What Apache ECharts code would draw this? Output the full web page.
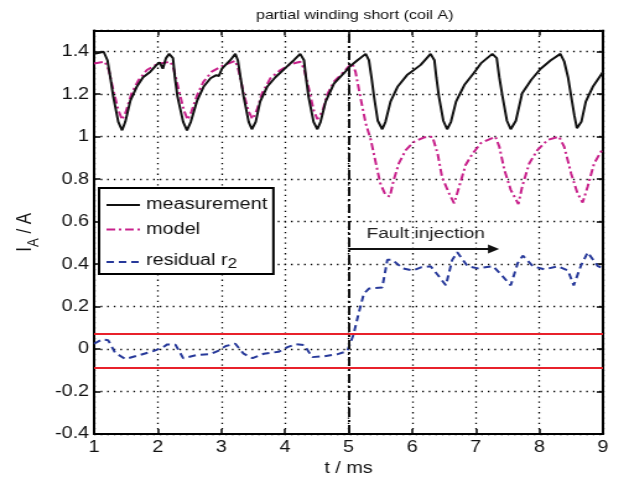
<!DOCTYPE html>
<html>
<head>
<meta charset="utf-8">
<script src="https://cdn.jsdelivr.net/npm/echarts@6/dist/echarts.min.js"></script>
<style>
  html, body { margin: 0; padding: 0; background: #fff; overflow: hidden; }
  /* the figure is laid out on a narrower canvas and widened to the page */
  #chart { width: 504px; height: 482px; transform: scaleX(1.2381); transform-origin: 0 0; }
</style>
</head>
<body>
<div id="chart"></div>
<script>
// time axis [ms]
const measT = [1.00,1.08,1.15,1.21,1.26,1.30,1.38,1.44,1.49,1.57,1.67,1.77,1.88,1.99,2.03,2.08,2.13,2.18,2.24,2.27,2.31,2.40,2.46,2.52,2.62,2.72,2.83,2.92,2.96,3.01,3.14,3.22,3.26,3.30,3.35,3.43,3.48,3.54,3.61,3.72,3.85,4.03,4.14,4.24,4.30,4.33,4.37,4.45,4.51,4.56,4.64,4.77,4.93,5.03,5.14,5.27,5.32,5.36,5.40,5.46,5.53,5.58,5.66,5.77,5.92,6.13,6.29,6.35,6.38,6.42,6.49,6.55,6.61,6.69,6.82,6.97,7.08,7.26,7.33,7.37,7.42,7.49,7.55,7.63,7.73,7.87,8.02,8.18,8.33,8.39,8.45,8.50,8.55,8.59,8.66,8.73,8.84,9.00];
// measured coil current I_A [A]
const measI = [1.39,1.395,1.40,1.36,1.27,1.19,1.07,1.03,1.07,1.17,1.235,1.28,1.305,1.34,1.35,1.32,1.37,1.39,1.37,1.28,1.19,1.07,1.03,1.07,1.17,1.235,1.275,1.29,1.285,1.32,1.36,1.39,1.36,1.28,1.19,1.07,1.035,1.07,1.165,1.235,1.28,1.33,1.36,1.39,1.36,1.28,1.19,1.07,1.035,1.07,1.165,1.25,1.30,1.333,1.36,1.39,1.36,1.28,1.19,1.075,1.035,1.07,1.165,1.235,1.29,1.337,1.39,1.36,1.28,1.19,1.075,1.035,1.07,1.165,1.243,1.30,1.345,1.39,1.37,1.28,1.19,1.075,1.035,1.075,1.205,1.267,1.32,1.36,1.39,1.355,1.28,1.19,1.10,1.04,1.07,1.165,1.235,1.305];

const modelT = [1.00,1.17,1.23,1.30,1.38,1.44,1.50,1.59,1.70,1.83,1.99,2.20,2.25,2.33,2.41,2.47,2.53,2.62,2.72,2.85,3.04,3.22,3.27,3.35,3.43,3.49,3.56,3.64,3.77,3.93,4.09,4.24,4.30,4.38,4.45,4.51,4.59,4.66,4.77,4.90,5.00,5.06,5.11,5.19,5.27,5.35,5.43,5.50,5.58,5.65,5.71,5.79,5.90,6.03,6.19,6.32,6.40,6.47,6.58,6.66,6.74,6.84,6.95,7.08,7.31,7.37,7.45,7.55,7.67,7.73,7.84,7.97,8.13,8.31,8.39,8.50,8.60,8.68,8.76,8.86,9.00];
// model current [A]
const modelI = [1.345,1.353,1.314,1.22,1.126,1.08,1.118,1.204,1.267,1.314,1.342,1.353,1.32,1.22,1.126,1.08,1.118,1.196,1.259,1.306,1.337,1.357,1.314,1.204,1.118,1.083,1.126,1.204,1.275,1.314,1.342,1.353,1.32,1.22,1.126,1.083,1.118,1.196,1.259,1.298,1.33,1.345,1.305,1.18,1.063,0.985,0.874,0.78,0.726,0.718,0.796,0.874,0.937,0.976,0.997,1.00,0.92,0.81,0.733,0.686,0.765,0.867,0.92,0.97,1.00,0.953,0.843,0.75,0.683,0.765,0.874,0.937,0.985,1.00,0.953,0.826,0.733,0.69,0.765,0.874,0.945];

const resT = [1.00,1.12,1.22,1.33,1.49,1.72,1.93,2.07,2.15,2.28,2.40,2.62,2.83,2.94,3.07,3.22,3.35,3.49,3.67,3.90,4.04,4.17,4.30,4.43,4.62,4.83,4.98,5.08,5.16,5.24,5.32,5.53,5.61,5.69,5.85,6.01,6.14,6.29,6.40,6.53,6.63,6.71,6.87,7.03,7.27,7.37,7.55,7.66,7.74,7.90,8.08,8.29,8.45,8.54,8.65,8.76,8.92,9.00];
// residual r2 [A]
const resR = [0.025,0.045,0.042,-0.017,-0.047,-0.028,-0.01,0.006,0.022,0.02,-0.043,-0.028,-0.024,-0.01,0.014,0.025,-0.022,-0.043,-0.022,-0.013,0.009,0.023,0.019,-0.038,-0.034,-0.024,-0.01,0.07,0.17,0.26,0.285,0.29,0.42,0.42,0.38,0.37,0.385,0.39,0.35,0.30,0.42,0.456,0.39,0.38,0.39,0.36,0.30,0.405,0.44,0.39,0.375,0.39,0.37,0.30,0.39,0.455,0.39,0.38];

// detection thresholds and fault marker
const thresholdUpper = 0.066;
const thresholdLower = -0.086;
const faultTime = 5;
const arrowEnd = 7.28;
const arrowLevel = 0.471;

const xTicks = { min: 1, max: 9, step: 1 };
const yTicks = { min: -0.4, max: 1.5, step: 0.2 };

const FONT = '"Liberation Sans", Arial, Helvetica, sans-serif';
const zip = (t, v) => t.map((x, i) => [x, v[i]]);

const gridLine = () => ({ show: true, lineStyle: { color: '#000', width: 1.3, type: [1.3, 4], opacity: 1 } });
const frameLine = () => ({ show: true, onZero: false, lineStyle: { color: '#000', width: 2 } });
const innerTick = () => ({ show: true, inside: true, length: 5, lineStyle: { color: '#000', width: 1.5 } });

const chart = echarts.init(document.getElementById('chart'));
chart.setOption({
  animation: false,
  backgroundColor: '#fff',
  title: {
    text: 'partial winding short (coil A)',
    left: 281.5,
    textAlign: 'center',
    top: 4,
    textStyle: { fontFamily: FONT, fontSize: 13, fontWeight: 'normal', color: '#111' }
  },
  grid: { left: 76, right: 17, top: 30.5, bottom: 48, containLabel: false },
  legend: {
    orient: 'vertical',
    left: 80,
    top: 188,
    padding: [8, 5, 3, 5],
    itemGap: 6.5,
    itemWidth: 27,
    itemHeight: 14,
    backgroundColor: '#fff',
    borderColor: '#000',
    borderWidth: 2,
    borderRadius: 0,
    itemStyle: { opacity: 0 },
    data: ['measurement', 'model', 'residual r2'],
    formatter: name => name === 'residual r2' ? '{m|residual r}{sub|2}' : name,
    textStyle: {
      fontFamily: FONT, fontSize: 16, color: '#111', lineHeight: 18,
      rich: {
        m: { fontFamily: FONT, fontSize: 16, color: '#111', lineHeight: 18, verticalAlign: 'top' },
        sub: { fontFamily: FONT, fontSize: 14, color: '#111', lineHeight: 14, padding: [12, 0, 0, 0], verticalAlign: 'bottom' }
      }
    }
  },
  xAxis: [{
    type: 'value', min: xTicks.min, max: xTicks.max, interval: xTicks.step,
    position: 'bottom',
    name: 't / ms', nameLocation: 'middle', nameGap: 26,
    nameTextStyle: { fontFamily: FONT, fontSize: 16, color: '#111' },
    axisLine: frameLine(), axisTick: innerTick(),
    axisLabel: { fontFamily: FONT, fontSize: 16, color: '#111', margin: 6 },
    splitLine: gridLine()
  }, {
    type: 'value', min: xTicks.min, max: xTicks.max, interval: xTicks.step,
    position: 'top',
    axisLine: frameLine(), axisTick: innerTick(),
    axisLabel: { show: false }, splitLine: { show: false }
  }],
  yAxis: [{
    type: 'value', min: yTicks.min, max: yTicks.max, interval: yTicks.step,
    position: 'left',
    name: 'I{sub|A} / A', nameLocation: 'middle', nameGap: 40,
    nameTextStyle: {
      fontFamily: FONT, fontSize: 17, color: '#111',
      rich: { sub: { fontFamily: FONT, fontSize: 13, color: '#111', lineHeight: 26, verticalAlign: 'bottom' } }
    },
    axisLine: frameLine(), axisTick: innerTick(),
    axisLabel: { fontFamily: FONT, fontSize: 16, color: '#111', margin: 4, showMaxLabel: false },
    splitLine: gridLine()
  }, {
    type: 'value', min: yTicks.min, max: yTicks.max, interval: yTicks.step,
    position: 'right',
    axisLine: frameLine(), axisTick: innerTick(),
    axisLabel: { show: false }, splitLine: { show: false }
  }],
  series: [{
    name: 'measurement',
    type: 'line',
    data: zip(measT, measI),
    symbol: 'none',
    color: '#111',
    lineStyle: { color: '#111', width: 2, type: 'solid' },
    z: 4,
    markLine: {
      silent: true,
      symbol: ['none', 'none'],
      label: { show: false },
      data: [
        { yAxis: thresholdUpper, lineStyle: { color: '#e8212b', width: 2, type: 'solid' } },
        { yAxis: thresholdLower, lineStyle: { color: '#e8212b', width: 2, type: 'solid' } },
        { xAxis: faultTime, lineStyle: { color: '#111', width: 2, type: [9, 3, 2, 3] } },
        [
          { coord: [faultTime, arrowLevel], symbol: 'none',
            lineStyle: { color: '#111', width: 2, type: 'solid' },
            label: { show: true, formatter: 'Fault injection', position: 'insideEndTop', distance: 7,
                     fontFamily: FONT, fontSize: 15.5, color: '#222' } },
          { coord: [arrowEnd, arrowLevel], symbol: 'triangle', symbolSize: [9, 9] }
        ]
      ]
    }
  }, {
    name: 'model',
    type: 'line',
    data: zip(modelT, modelI),
    symbol: 'none',
    color: '#c8218b',
    lineStyle: { color: '#c8218b', width: 2, type: [7, 3, 2, 3] },
    z: 3
  }, {
    name: 'residual r2',
    type: 'line',
    data: zip(resT, resR),
    symbol: 'none',
    color: '#27399a',
    lineStyle: { color: '#27399a', width: 2, type: [6, 4] },
    z: 3
  }]
});
</script>
</body>
</html>
